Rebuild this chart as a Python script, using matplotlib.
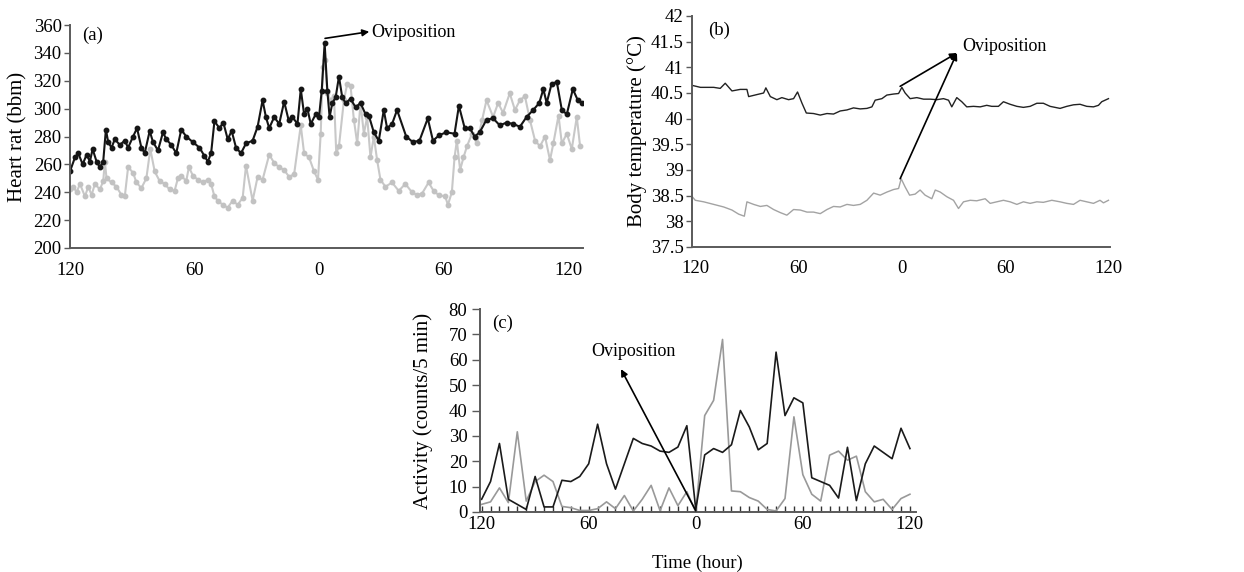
import matplotlib
matplotlib.use("Agg")
import matplotlib.pyplot as plt
import numpy as np

plt.rcParams['font.family'] = ['Liberation Serif', 'DejaVu Serif']

# ---------------- Panel (a): heart rate ----------------
hr_black_h = [-120.0, -117.6, -116.0, -113.9, -112.0, -110.4, -109.1, -107.2, -105.6, -104.0,
              -102.7, -101.6, -100.0, -98.4, -96.0, -93.6, -92.0, -89.6, -87.7, -85.6,
              -84.0, -81.6, -80.0, -77.6, -75.2, -73.6, -71.2, -68.8, -66.4, -64.0,
              -60.8, -57.6, -55.2, -53.6, -52.0, -50.4, -48.0, -46.1, -44.0, -42.1,
              -40.0, -37.6, -35.2, -32.0, -29.6, -27.2, -25.6, -24.0, -21.6, -19.2,
              -16.8, -14.7, -12.8, -10.4, -8.8, -7.2, -5.6, -4.0, -1.6, 0.0,
              1.3, 2.7, 4.0, 5.1, 6.4, 8.0, 9.6, 11.2, 12.8, 15.2,
              17.6, 20.0, 22.4, 24.0, 26.4, 28.8, 31.2, 32.8, 35.2, 37.6,
              42.0, 45.2, 48.4, 52.4, 54.9, 58.0, 61.3, 65.3, 67.4, 70.2,
              72.6, 75.0, 77.4, 80.7, 83.9, 87.1, 90.4, 93.6, 96.8, 100.0,
              103.2, 106.1, 108.1, 109.7, 112.1, 114.6, 117.0, 119.4, 122.3, 124.7, 126.6]
hr_black = [255, 265, 268, 260, 267, 262, 271, 262, 258, 262,
            285, 276, 272, 278, 274, 277, 272, 280, 286, 272,
            268, 284, 276, 270, 283, 278, 274, 268, 285, 280,
            276, 272, 266, 262, 268, 291, 286, 290, 278, 284,
            272, 268, 275, 277, 287, 306, 294, 286, 294, 289,
            305, 292, 294, 289, 314, 296, 300, 289, 296, 294,
            313, 347, 313, 294, 304, 308, 323, 308, 304, 307,
            301, 304, 296, 295, 283, 277, 299, 286, 289, 299,
            280, 276, 277, 293, 277, 281, 283, 282, 302, 286,
            286, 280, 283, 292, 293, 288, 290, 289, 287, 294,
            299, 304, 314, 304, 318, 319, 299, 296, 314, 306, 304]

hr_gray_h = [-120.0, -118.4, -116.8, -115.2, -112.8, -111.2, -109.6, -108.0, -105.6, -104.0,
             -103.2, -102.4, -100.0, -97.6, -95.2, -93.6, -92.0, -89.6, -88.0, -85.6,
             -83.2, -81.3, -79.2, -76.8, -74.4, -72.0, -69.6, -68.0, -66.4, -64.0,
             -62.7, -60.8, -58.4, -56.0, -53.6, -52.0, -50.4, -48.8, -46.4, -44.0,
             -41.6, -39.2, -36.8, -35.2, -32.0, -29.6, -27.2, -24.0, -21.6, -19.2,
             -16.8, -14.4, -12.0, -8.8, -7.2, -4.8, -2.4, -0.5, 0.8, 1.9,
             2.9, 4.0, 5.6, 7.2, 8.3, 9.6, 12.0, 13.6, 15.2, 16.8,
             18.4, 20.0, 21.6, 23.2, 24.8, 26.4, 28.0, 29.6, 32.0, 35.2,
             38.4, 41.6, 44.8, 47.2, 49.6, 52.8, 55.2, 57.6, 60.8, 62.1,
             64.0, 65.3, 66.4, 68.0, 69.6, 71.3, 73.7, 76.1, 78.6, 80.7,
             83.9, 86.3, 88.7, 91.9, 94.4, 96.8, 99.2, 101.6, 104.1, 106.5,
             108.9, 111.3, 112.9, 115.4, 117.0, 119.4, 121.8, 124.2, 125.8]
hr_gray = [242, 244, 240, 246, 237, 244, 238, 246, 242, 248,
           262, 250, 247, 244, 238, 237, 258, 254, 247, 243,
           250, 271, 255, 248, 246, 242, 241, 250, 252, 248,
           258, 252, 249, 247, 249, 246, 237, 234, 231, 229,
           234, 231, 236, 259, 234, 251, 249, 267, 261, 258,
           256, 251, 253, 288, 268, 265, 255, 249, 282, 330,
           335, 311, 306, 309, 268, 273, 306, 318, 316, 292,
           275, 304, 282, 294, 265, 280, 263, 249, 244, 247,
           241, 246, 240, 238, 239, 247, 241, 238, 237, 231,
           240, 265, 277, 256, 265, 273, 282, 275, 292, 306,
           294, 304, 297, 311, 299, 306, 309, 292, 277, 273,
           280, 263, 275, 295, 275, 282, 271, 294, 273]

# ---------------- Panel (b): body temperature ----------------
bt_black_h = [-122.0, -117.0, -109.3, -105.5, -102.6, -98.7, -93.9, -90.0, -89.0, -84.1,
              -80.3, -79.0, -76.4, -72.6, -69.7, -65.8, -62.9, -60.6, -58.0, -55.5,
              -51.3, -47.4, -43.5, -39.7, -35.8, -31.9, -28.1, -24.2, -20.3, -17.4,
              -15.5, -11.6, -8.7, -4.8, -1.9, 0.0, 1.9, 4.8, 8.7, 12.6,
              16.4, 20.3, 24.2, 27.1, 29.0, 31.9, 34.8, 37.7, 41.6, 45.5,
              49.3, 52.2, 56.1, 59.0, 62.9, 66.8, 70.6, 74.5, 78.4, 82.2,
              86.1, 91.9, 95.8, 99.7, 103.5, 107.4, 111.3, 114.2, 116.1, 120.0]
bt_black = [40.65, 40.61, 40.61, 40.59, 40.69, 40.54, 40.57, 40.57, 40.43, 40.47,
            40.50, 40.60, 40.43, 40.37, 40.41, 40.37, 40.39, 40.52, 40.30, 40.11,
            40.10, 40.07, 40.10, 40.09, 40.15, 40.17, 40.21, 40.19, 40.20, 40.23,
            40.36, 40.39, 40.46, 40.48, 40.49, 40.61, 40.50, 40.39, 40.41, 40.38,
            40.38, 40.37, 40.39, 40.36, 40.23, 40.41, 40.33, 40.23, 40.24, 40.23,
            40.26, 40.24, 40.24, 40.33, 40.28, 40.24, 40.22, 40.24, 40.30, 40.30,
            40.24, 40.20, 40.24, 40.27, 40.28, 40.24, 40.23, 40.26, 40.33, 40.39]

bt_gray_h = [-122.0, -120.0, -115.1, -109.3, -103.5, -98.7, -94.8, -91.5, -90.0, -86.1,
             -82.2, -78.4, -74.5, -70.6, -66.8, -62.9, -59.0, -55.1, -51.3, -47.4,
             -43.5, -39.7, -35.8, -31.9, -28.1, -24.2, -20.3, -16.4, -12.6, -8.7,
             -4.8, -1.9, -0.4, 1.9, 4.5, 7.7, 10.6, 13.5, 17.4, 19.4,
             22.3, 26.1, 30.0, 32.9, 35.8, 39.7, 43.5, 48.4, 51.3, 55.1,
             59.0, 62.9, 66.8, 70.6, 74.5, 78.4, 82.2, 87.1, 91.9, 95.8,
             99.7, 103.5, 107.4, 111.3, 115.1, 117.1, 120.0]
bt_gray = [38.49, 38.41, 38.38, 38.33, 38.28, 38.22, 38.14, 38.10, 38.38, 38.33,
           38.29, 38.31, 38.23, 38.17, 38.12, 38.23, 38.22, 38.18, 38.18, 38.15,
           38.23, 38.29, 38.28, 38.33, 38.31, 38.33, 38.41, 38.55, 38.51, 38.57,
           38.62, 38.64, 38.83, 38.67, 38.51, 38.53, 38.61, 38.51, 38.44, 38.61,
           38.57, 38.48, 38.41, 38.25, 38.38, 38.41, 38.40, 38.44, 38.35, 38.38,
           38.41, 38.38, 38.33, 38.38, 38.35, 38.38, 38.37, 38.41, 38.38, 38.35,
           38.33, 38.41, 38.38, 38.35, 38.41, 38.36, 38.41]

# ---------------- Panel (c): activity ----------------
act_h = list(range(-120, 121, 5))
act_black = [5, 12, 27, 5, 3, 1, 14, 2, 2, 12.5, 12, 14, 19, 34.6, 19, 9, 19, 29, 27, 26,
             24, 23.5, 25.6, 34, 1,
             22.5, 25, 23.5, 26.5, 40, 33.5, 24.5, 27, 63, 38, 45, 43, 13.5, 12, 10.5,
             5.5, 25.5, 4.5, 19, 26, 23.5, 21, 33, 25]
act_gray = [3, 4, 9.5, 3.7, 31.6, 4.3, 12, 14.5, 12, 2.2, 1.7, 0.6, 0.6, 1.3, 4, 1.3, 6.5,
            0.4, 5, 10.5, 0.5, 9.5, 2.5, 8, 0,
            38, 44, 68, 8.3, 8, 5.7, 4.3, 1, 0.4, 5.3, 37.5, 14.7, 7, 4.3, 22.4, 24,
            20.4, 22, 8, 4, 5, 1, 5.3, 7]

time_ticks = [-120, -60, 0, 60, 120]
time_labels = ['120', '60', '0', '60', '120']

W, H = 1244, 572
fig = plt.figure(figsize=(W / 100, H / 100), dpi=100)

def px_axes(l, r, t, b):
    return fig.add_axes([l / W, 1 - b / H, (r - l) / W, (b - t) / H])

FS = 13.5
LFS = 15
spine_c = '#5a5a5a'

def style(ax, ylen=4, ypad=2):
    for s in ['top', 'right']:
        ax.spines[s].set_visible(False)
    for s in ['left', 'bottom']:
        ax.spines[s].set_color(spine_c)
        ax.spines[s].set_linewidth(1.4)
    ax.tick_params(axis='y', direction='out', length=ylen, width=1, color=spine_c,
                   labelsize=FS, pad=ypad)

# ---- (a)
axa = px_axes(70, 583, 25, 248)
style(axa)
axa.plot(hr_gray_h, hr_gray, color='#c8c8c8', lw=1.5, marker='o', ms=3.2,
         mec='#c2c2c2', mfc='#c2c2c2')
axa.plot(hr_black_h, hr_black, color='#151515', lw=1.5, marker='o', ms=3.2,
         mec='#151515', mfc='#151515')
axa.set_xlim(-120, 127.2)
axa.set_ylim(200, 360)
axa.set_yticks(np.arange(200, 361, 20))
axa.set_xticks(time_ticks)
axa.set_xticklabels(time_labels)
axa.tick_params(axis='x', length=0, labelsize=FS, pad=10)
axa.set_ylabel('Heart rat (bbm)', fontsize=LFS)
axa.yaxis.set_label_coords(-0.082, 0.5)
axa.text(-114.2, 352.8, '(a)', fontsize=FS, va='center', ha='left')
axa.annotate('', xy=(24.2, 355.2), xytext=(2.9, 350.4),
             arrowprops=dict(arrowstyle='-|>', color='black', lw=1.2, mutation_scale=10,
                             shrinkA=0, shrinkB=0))
axa.text(25.2, 354.5, 'Oviposition', fontsize=13, va='center', ha='left')

# ---- (b)
axb = px_axes(692, 1110, 16, 247)
style(axb, ylen=4, ypad=2)
axb.plot(bt_black_h, bt_black, color='#222222', lw=1.0)
axb.plot(bt_gray_h, bt_gray, color='#a3a3a3', lw=1.0)
axb.set_xlim(-121.9, 120.9)
axb.set_ylim(37.5, 42)
yt = np.arange(37.5, 42.01, 0.5)
axb.set_yticks(yt)
axb.set_yticklabels(['%g' % v for v in yt])
axb.set_xticks(time_ticks)
axb.set_xticklabels(time_labels)
axb.tick_params(axis='x', length=0, labelsize=FS, pad=9)
axb.set_ylabel('Body temperature (°C)', fontsize=LFS)
axb.yaxis.set_label_coords(-0.108, 0.5)
axb.text(-112.8, 41.73, '(b)', fontsize=FS, va='center', ha='left')
for y0 in (40.63, 38.83):
    axb.annotate('', xy=(32.0, 41.28), xytext=(-1.0, y0),
                 arrowprops=dict(arrowstyle='-|>', color='black', lw=1.2, mutation_scale=10,
                                 shrinkA=0, shrinkB=0))
axb.text(34.8, 41.4, 'Oviposition', fontsize=13, va='center', ha='left')

# ---- (c)
axc = px_axes(480, 916, 309, 512)
style(axc, ylen=6, ypad=3)
axc.plot(act_h, act_gray, color='#999999', lw=1.2)
axc.plot(act_h, act_black, color='#1a1a1a', lw=1.2)
axc.set_xlim(-120.9, 123.4)
axc.set_ylim(0, 80)
axc.set_yticks(np.arange(0, 81, 10))
axc.set_xticks(time_ticks)
axc.set_xticklabels(time_labels)
axc.set_xticks(act_h, minor=True)
axc.tick_params(axis='x', which='both', direction='in', length=4, width=1, color='#333333',
                labelsize=FS, pad=3)
axc.set_ylabel('Activity (counts/5 min)', fontsize=LFS)
axc.yaxis.set_label_coords(-0.108, 0.5)
axc.set_xlabel('Time (hour)', fontsize=13.5)
axc.xaxis.set_label_coords(0.498, -0.21)
axc.text(-113.9, 74.3, '(c)', fontsize=FS, va='center', ha='left')
axc.annotate('', xy=(-41.9, 56.3), xytext=(0.0, 0.5),
             arrowprops=dict(arrowstyle='-|>', color='black', lw=1.2, mutation_scale=10,
                             shrinkA=0, shrinkB=0))
axc.text(-35.0, 63.2, 'Oviposition', fontsize=13, va='center', ha='center')

fig.savefig('out.png', dpi=100)
